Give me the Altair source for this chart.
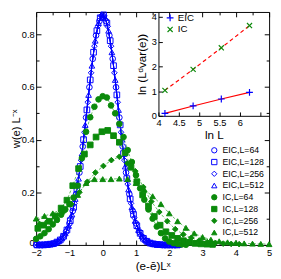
import altair as alt
import pandas as pd

# ---------------- data ----------------
SERIES = ["EIC,L=64", "EIC,L=128", "EIC,L=256", "EIC,L=512",
          "IC,L=64", "IC,L=128", "IC,L=256", "IC,L=512"]

eic64_x = [-2.0, -1.9, -1.8, -1.7, -1.6, -1.5, -1.4, -1.3, -1.2, -1.1, -1.0,
           -0.9, -0.8, -0.7, -0.6, -0.5, -0.4, -0.3, -0.2, -0.1, 0.0,
           0.1, 0.2, 0.3, 0.4, 0.5, 0.6, 0.7, 0.8, 0.9,
           1.0, 1.1, 1.2, 1.3, 1.4, 1.5, 1.6, 1.7, 1.8, 1.9, 2.0, 2.1, 2.2, 2.3]
eic64_y = [0, 0, 0, 0.001, 0.002, 0.004, 0.009, 0.016, 0.029, 0.05, 0.082,
           0.129, 0.193, 0.275, 0.374, 0.484, 0.599, 0.707, 0.796, 0.85, 0.868,
           0.85, 0.796, 0.707, 0.599, 0.484, 0.374, 0.275, 0.193, 0.129,
           0.082, 0.05, 0.029, 0.016, 0.009, 0.004, 0.002, 0.001, 0, 0, 0, 0, 0, 0]

eic128_x = [-1.975, -1.875, -1.775, -1.675, -1.575, -1.475, -1.375, -1.275, -1.175, -1.075,
            -0.975, -0.875, -0.775, -0.675, -0.575, -0.475, -0.375, -0.275, -0.175, -0.075,
            0.025, 0.125, 0.225, 0.325, 0.425, 0.525, 0.625, 0.725, 0.825, 0.925,
            1.025, 1.125, 1.225, 1.325, 1.425, 1.525, 1.625, 1.725, 1.825, 1.925,
            2.025, 2.125, 2.225]
eic128_y = [0, 0, 0, 0.001, 0.003, 0.005, 0.011, 0.019, 0.033, 0.057,
            0.092, 0.143, 0.211, 0.298, 0.4, 0.513, 0.627, 0.732, 0.814, 0.863,
            0.874, 0.843, 0.776, 0.681, 0.57, 0.456, 0.347, 0.252, 0.175, 0.116,
            0.073, 0.044, 0.025, 0.014, 0.007, 0.004, 0.002, 0.001, 0, 0,
            0, 0, 0]

eic256_x = [-1.95, -1.85, -1.75, -1.65, -1.55, -1.45, -1.35, -1.25, -1.15, -1.05,
            -0.95, -0.85, -0.75, -0.65, -0.55, -0.45, -0.35, -0.25, -0.15, -0.05,
            0.05, 0.15, 0.25, 0.35, 0.45, 0.55, 0.65, 0.75, 0.85, 0.95,
            1.05, 1.15, 1.25, 1.35, 1.45, 1.55, 1.65, 1.75, 1.85, 1.95,
            2.05, 2.15, 2.25]
eic256_y = [0, 0, 0.001, 0.001, 0.003, 0.006, 0.012, 0.022, 0.038, 0.064,
            0.103, 0.158, 0.231, 0.322, 0.428, 0.542, 0.654, 0.755, 0.83, 0.87,
            0.87, 0.83, 0.755, 0.654, 0.542, 0.428, 0.322, 0.231, 0.158, 0.103,
            0.064, 0.038, 0.022, 0.012, 0.006, 0.003, 0.001, 0.001, 0, 0,
            0, 0, 0]

eic512_x = [-1.925, -1.825, -1.725, -1.625, -1.525, -1.425, -1.325, -1.225, -1.125, -1.025,
            -0.925, -0.825, -0.725, -0.625, -0.525, -0.425, -0.325, -0.225, -0.125, -0.025,
            0.075, 0.175, 0.275, 0.375, 0.475, 0.575, 0.675, 0.775, 0.875, 0.975,
            1.075, 1.175, 1.275, 1.375, 1.475, 1.575, 1.675, 1.775, 1.875, 1.975,
            2.075, 2.175, 2.275]
eic512_y = [0, 0, 0.001, 0.002, 0.003, 0.007, 0.014, 0.025, 0.044, 0.073,
            0.116, 0.175, 0.252, 0.347, 0.456, 0.57, 0.681, 0.776, 0.843, 0.876,
            0.863, 0.814, 0.732, 0.627, 0.513, 0.4, 0.298, 0.211, 0.143, 0.092,
            0.057, 0.033, 0.019, 0.011, 0.005, 0.003, 0.001, 0, 0, 0,
            0, 0, 0]

ic64_x = [-2.0, -1.875, -1.75, -1.625, -1.5, -1.375, -1.25, -1.125, -1.0, -0.875,
          -0.75, -0.625, -0.5, -0.375, -0.25, -0.125, 0.0, 0.125, 0.25, 0.375,
          0.5, 0.625, 0.75, 0.875, 1.0, 1.125, 1.25, 1.375, 1.5, 1.625,
          1.75, 1.875, 2.0, 2.125, 2.25, 2.375, 2.5]
ic64_y = [0.023, 0.033, 0.045, 0.06, 0.078, 0.095, 0.115, 0.135, 0.155, 0.18,
          0.225, 0.33, 0.43, 0.485, 0.525, 0.553, 0.565, 0.56, 0.53, 0.5,
          0.46, 0.41, 0.36, 0.315, 0.265, 0.215, 0.172, 0.135, 0.1, 0.07,
          0.045, 0.025, 0.013, 0.007, 0.004, 0.002, 0.001]

ic128_x = [-1.95, -1.775, -1.6, -1.425, -1.25, -1.075, -0.9, -0.725, -0.55, -0.375,
           -0.2, -0.025, 0.15, 0.325, 0.5, 0.675, 0.85, 1.025, 1.2, 1.375,
           1.55, 1.725, 1.9, 2.075, 2.25, 2.425, 2.6, 2.775, 2.95, 3.125, 3.3]
ic128_y = [0.063, 0.075, 0.09, 0.11, 0.14, 0.17, 0.225, 0.29, 0.345, 0.38,
           0.41, 0.43, 0.435, 0.415, 0.39, 0.35, 0.295, 0.24, 0.19, 0.148,
           0.108, 0.075, 0.05, 0.036, 0.025, 0.016, 0.01, 0.006, 0.004, 0.003, 0.002]

ic256_x = [-1.9, -1.66, -1.42, -1.18, -0.94, -0.7, -0.46, -0.22, 0.02, 0.26,
           0.5, 0.74, 0.98, 1.22, 1.46, 1.7, 1.94, 2.18, 2.42, 2.66,
           2.9, 3.14, 3.38, 3.62, 3.86, 4.1]
ic256_y = [0.08, 0.09, 0.105, 0.125, 0.155, 0.2, 0.24, 0.275, 0.3, 0.322,
           0.335, 0.31, 0.28, 0.22, 0.165, 0.125, 0.09, 0.06, 0.04, 0.027,
           0.017, 0.011, 0.007, 0.005, 0.004, 0.003]

ic512_x = [-2.0, -1.75, -1.5, -1.25, -1.0, -0.75, -0.5, -0.25, 0.0, 0.25,
           0.5, 0.75, 1.0, 1.25, 1.5, 1.75, 2.0, 2.25, 2.5, 2.75,
           3.0, 3.25, 3.5, 3.75, 4.0, 4.25, 4.5, 4.75, 5.0]
ic512_y = [0.1, 0.11, 0.12, 0.135, 0.155, 0.19, 0.235, 0.25, 0.25, 0.25,
           0.252, 0.25, 0.235, 0.21, 0.185, 0.155, 0.12, 0.09, 0.065, 0.044,
           0.03, 0.02, 0.014, 0.01, 0.008, 0.006, 0.005, 0.004, 0.003]

# inset: ln L versus ln(L^d var(e))
INSET_SETS = ["EIC", "IC"]
ln_L = [4.159, 4.852, 5.545, 6.238]
eic_lnvar = [0.1, 0.4, 0.68, 0.95]
ic_lnvar = [1.03, 1.88, 2.75, 3.65]

# tick labels / values
X_TICKS = [-2, -1, 0, 1, 2, 3, 4, 5]
X_MINOR = [-1.5, -0.5, 0.5, 1.5, 2.5, 3.5, 4.5]
Y_TICKS = [0, 0.2, 0.4, 0.6, 0.8]
Y_MINOR = [0.1, 0.3, 0.5, 0.7]
IX_TICKS = [4, 4.5, 5, 5.5, 6, 6.5]
IY_TICKS = [0, 1, 2, 3, 4]

# ---------------- tables ----------------
XS = [eic64_x, eic128_x, eic256_x, eic512_x, ic64_x, ic128_x, ic256_x, ic512_x]
YS = [eic64_y, eic128_y, eic256_y, eic512_y, ic64_y, ic128_y, ic256_y, ic512_y]
rows = []
for name, xs, ys in zip(SERIES, XS, YS):
    for xv, yv in zip(xs, ys):
        rows.append({"x": xv, "y": yv, "series": name, "grp": name.split(",")[0]})
main_df = pd.DataFrame(rows)

irows = []
for lv, a, b in zip(ln_L, eic_lnvar, ic_lnvar):
    irows.append({"lnL": lv, "v": a, "set": "EIC"})
    irows.append({"lnL": lv, "v": b, "set": "IC"})
inset_df = pd.DataFrame(irows)

# ---------------- styling ----------------
BLUE = "#0000ff"
GREEN = "#0b8a0b"
GREEN_LINE = "#3cae3c"
RED = "#ff0000"
FONT = "Liberation Sans"
W, H = 240, 240
XDOM = [-2, 5]
YDOM = [0, 0.885]
LAB = 9.5
TIT = 12

def sx():
    return alt.Scale(domain=XDOM, nice=False, zero=False)

def sy():
    return alt.Scale(domain=YDOM, nice=False, zero=False)

def tick_axis(orient, values, size, labels=False, **kw):
    return alt.Axis(orient=orient, values=values, offset=-size, tickSize=size,
                    domain=False, grid=False, labels=labels, tickColor="black",
                    tickWidth=1, **kw)

ax_bottom = tick_axis("bottom", X_TICKS, 5, labels=True, format="d",
                      labelPadding=3, labelFontSize=LAB, labelFlush=False,
                      labelOverlap=False, title="(e-ē)Lˣ", titleFontSize=TIT,
                      titlePadding=4, titleFontWeight="normal")
ax_left = tick_axis("left", Y_TICKS, 5, labels=True, format="~g",
                    labelPadding=2, labelFontSize=LAB, labelFlush=False,
                    labelOverlap=False,
                    labelOffset={"condition": {"test": "datum.value === 0", "value": -2}, "value": 0},
                    title="w(e) L⁻ˣ", titleFontSize=11.5,
                    titleX=-20, titleFontWeight="normal")

legend_main = alt.Legend(orient="none", legendX=179, legendY=138, title=None,
                         labelFontSize=9, labelFont=FONT, symbolSize=30,
                         symbolStrokeWidth=1, rowPadding=2.1, labelOffset=4,
                         clipHeight=9, padding=0, labelLimit=200)

base = alt.Chart(main_df)
lines_eic = base.transform_filter("datum.grp == 'EIC'").mark_line(
    color=BLUE, strokeWidth=1).encode(
    x=alt.X("x:Q", scale=sx(), axis=ax_bottom),
    y=alt.Y("y:Q", scale=sy(), axis=ax_left),
    detail="series:N", order="x:Q")
lines_ic = base.transform_filter("datum.grp == 'IC'").mark_line(
    color=GREEN_LINE, strokeWidth=0.8, strokeDash=[3, 2]).encode(
    x=alt.X("x:Q", scale=sx(), axis=ax_bottom),
    y=alt.Y("y:Q", scale=sy(), axis=ax_left),
    detail="series:N", order="x:Q")
points = base.mark_point(opacity=1, strokeWidth=1, size=34).encode(
    x=alt.X("x:Q", scale=sx(), axis=ax_bottom),
    y=alt.Y("y:Q", scale=sy(), axis=ax_left),
    color=alt.Color("series:N", scale=alt.Scale(domain=SERIES, range=[BLUE] * 4 + [GREEN] * 4),
                    legend=legend_main),
    shape=alt.Shape("series:N", scale=alt.Scale(domain=SERIES,
                    range=["circle", "square", "diamond", "triangle-up"] * 2),
                    legend=legend_main),
    fill=alt.Fill("series:N", scale=alt.Scale(domain=SERIES,
                  range=["transparent"] * 4 + [GREEN] * 4),
                  legend=legend_main),
)
main_layer = alt.layer(lines_eic, lines_ic, points)

ghost = alt.Chart(main_df).mark_point(opacity=0, size=1)
minor_bl = ghost.encode(x=alt.X("x:Q", scale=sx(), axis=tick_axis("bottom", X_MINOR, 3, title=None)),
                        y=alt.Y("y:Q", scale=sy(), axis=tick_axis("left", Y_MINOR, 3, title=None)))
major_tr = ghost.encode(x=alt.X("x:Q", scale=sx(), axis=tick_axis("top", X_TICKS, 5, title=None)),
                        y=alt.Y("y:Q", scale=sy(), axis=tick_axis("right", Y_TICKS, 5, title=None)))
minor_tr = ghost.encode(x=alt.X("x:Q", scale=sx(), axis=tick_axis("top", X_MINOR, 3, title=None)),
                        y=alt.Y("y:Q", scale=sy(), axis=tick_axis("right", Y_MINOR, 3, title=None)))

# ---------------- inset ----------------
IX0, IX1 = 126, 240     # inset left/right inside the plot (px)
IY0 = 107               # inset bottom inside the plot (px)

def isx():
    return alt.Scale(domain=[4, 6.72], range=[IX0, IX1], nice=False, zero=False)

def isy():
    return alt.Scale(domain=[0, 4.2], range=[IY0, 0], nice=False, zero=False)

iax_x = alt.Axis(orient="bottom", values=IX_TICKS, offset=-(H - IY0) - 4, tickSize=4,
                 domain=False, grid=False, tickColor="black",
                 labelExpr="datum.value > 6.2 ? '' : datum.label", format="~g",
                 labelPadding=2, labelFontSize=LAB, labelFlush=False, labelOverlap=False,
                 title="ln L", titleFontSize=TIT, titlePadding=3, titleFontWeight="normal")
iax_y = alt.Axis(orient="left", values=IY_TICKS, offset=-IX0 - 4, tickSize=4,
                 domain=False, grid=False, tickColor="black", format="d",
                 labelPadding=2, labelFontSize=LAB, labelFlush=False, labelOverlap=False,
                 title="ln (Lᵈvar(e))", titleFontSize=TIT, titlePadding=3,
                 titleFontWeight="normal")

legend_inset = alt.Legend(orient="none", legendX=133, legendY=1, title=None,
                          labelFontSize=10, labelFont=FONT, symbolSize=49,
                          symbolStrokeWidth=1.2, rowPadding=0, labelOffset=3, padding=0)

PLUS = "M-1,0L1,0M0,-1L0,1"
CROSS = "M-0.75,-0.75L0.75,0.75M-0.75,0.75L0.75,-0.75"

ibase = alt.Chart(inset_df)
ilines_eic = ibase.transform_filter("datum.set == 'EIC'").mark_line(
    color=RED, strokeWidth=1.2).encode(
    x=alt.X("lnL:Q", scale=isx(), axis=iax_x), y=alt.Y("v:Q", scale=isy(), axis=iax_y))
ilines_ic = ibase.transform_filter("datum.set == 'IC'").mark_line(
    color=RED, strokeWidth=1.2, strokeDash=[4, 3]).encode(
    x=alt.X("lnL:Q", scale=isx(), axis=iax_x), y=alt.Y("v:Q", scale=isy(), axis=iax_y))
ipoints = ibase.mark_point(opacity=1, filled=False, strokeWidth=1.2, size=49).encode(
    x=alt.X("lnL:Q", scale=isx(), axis=iax_x), y=alt.Y("v:Q", scale=isy(), axis=iax_y),
    color=alt.Color("set:N", scale=alt.Scale(domain=INSET_SETS, range=[BLUE, GREEN]),
                    legend=legend_inset),
    shape=alt.Shape("set:N", scale=alt.Scale(domain=INSET_SETS, range=[PLUS, CROSS]),
                    legend=legend_inset))
inset_layer = alt.layer(ilines_eic, ilines_ic, ipoints)

iborder = ibase.mark_point(opacity=0, size=1).encode(
    x=alt.X("lnL:Q", scale=isx(), axis=alt.Axis(orient="bottom", offset=-(H - IY0), domain=True,
            domainColor="black", domainWidth=1, ticks=False, labels=False, grid=False, title=None)),
    y=alt.Y("v:Q", scale=isy(), axis=alt.Axis(orient="left", offset=-IX0, domain=True,
            domainColor="black", domainWidth=1, ticks=False, labels=False, grid=False, title=None)))

chart = alt.layer(main_layer, minor_bl, major_tr, minor_tr, iborder, inset_layer).resolve_scale(
    x="independent", y="independent", color="independent", shape="independent", fill="independent"
).resolve_axis(x="independent", y="independent").resolve_legend(
    color="independent", shape="independent", fill="independent"
).properties(
    width=W, height=H,
    padding={"left": 29, "top": 0, "right": 4, "bottom": 31},
    autosize=alt.AutoSizeParams(type="none"),
    background="white",
).configure_view(stroke="black", strokeWidth=1).configure_axis(
    labelFont=FONT, titleFont=FONT, labelColor="black", titleColor="black"
).configure_legend(labelColor="black")

chart.save("out.html", embed_options={"renderer": "svg", "actions": False})
